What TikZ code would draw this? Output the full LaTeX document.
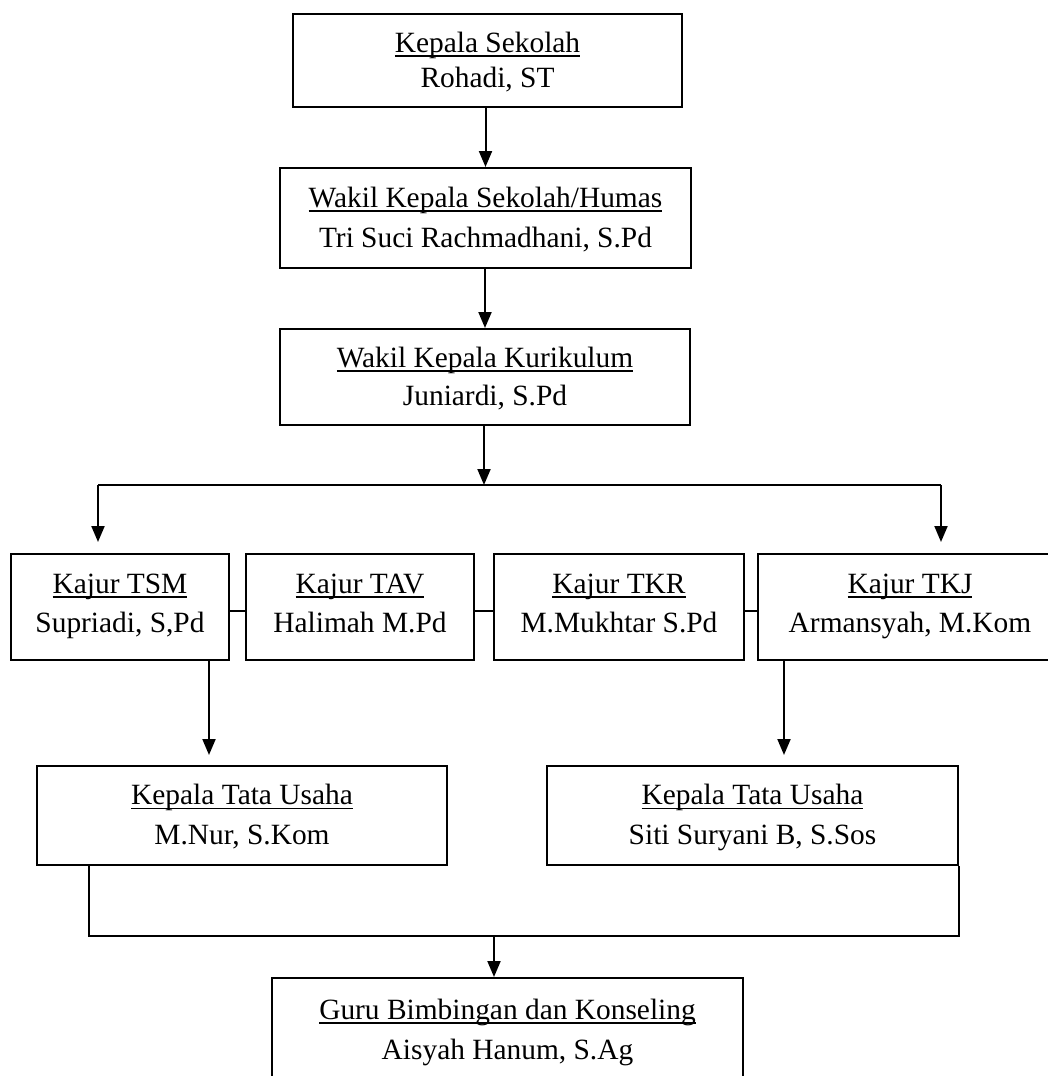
\documentclass[tikz,border=0pt]{standalone}
\usepackage{fontspec}
\setmainfont{Liberation Serif}
\usetikzlibrary{arrows.meta}
\def\sht{26bp}
\def\sdp{8bp}
\newcommand\mystrut{\rule[-\sdp]{0pt}{\dimexpr\sdp+\sht\relax}}
\newcommand\myul[1]{\setbox0=\hbox{#1}\rlap{\rule[-4.8bp]{\wd0}{1.6bp}}\box0\mystrut}
\newcommand\mysecond[1]{#1\mystrut}
\begin{document}
\begin{tikzpicture}[x=1bp,y=-1bp,
  orgbox/.style n args={3}{draw, line width=2bp, rectangle, inner sep=0pt,
     minimum width=#1, minimum height=#2, align=center,
     font=\fontsize{29.4bp}{#3}\selectfont},
  rowbox/.style={font=\fontsize{29.4bp}{39bp}\selectfont\def\sht{22bp}\def\sdp{11bp}},
  conn/.style={line width=2bp},
  arr/.style={conn, -{Triangle[length=16bp,width=13bp]}}]
\useasboundingbox (0,0) rectangle (1048,1076);
\clip (0,0) rectangle (1048,1076);
% boxes
\node[orgbox={389bp}{93bp}{35bp}] (b1) at (487.5,60.5) {\myul{Kepala Sekolah}\\\mysecond{Rohadi, ST}};
\node[orgbox={411bp}{100bp}{40bp}] (b2) at (485.5,218) {\myul{Wakil Kepala Sekolah/Humas}\\\mysecond{Tri Suci Rachmadhani, S.Pd}};
\node[orgbox={410bp}{96bp}{38bp}] (b3) at (485,377) {\myul{Wakil Kepala Kurikulum}\\\mysecond{Juniardi, S.Pd}};
\node[orgbox={218bp}{106bp}{39bp}, rowbox] (tsm) at (120,607) {\myul{Kajur TSM}\\\mysecond{Supriadi, S,Pd}};
\node[orgbox={228bp}{106bp}{39bp}, rowbox] (tav) at (360,607) {\myul{Kajur TAV}\\\mysecond{Halimah M.Pd}};
\node[orgbox={250bp}{106bp}{39bp}, rowbox] (tkr) at (619,607) {\myul{Kajur TKR}\\\mysecond{M.Mukhtar S.Pd}};
\node[orgbox={304bp}{106bp}{39bp}, rowbox] (tkj) at (910,607) {\myul{Kajur TKJ}\\\mysecond{Armansyah, M.Kom}};
\node[orgbox={410bp}{99bp}{40bp}] (ktu1) at (242,815.5) {\myul{Kepala Tata Usaha}\\\mysecond{M.Nur, S.Kom}};
\node[orgbox={411bp}{99bp}{40bp}] (ktu2) at (752.5,815.5) {\myul{Kepala Tata Usaha}\\\mysecond{Siti Suryani B, S.Sos}};
\node[orgbox={471bp}{104bp}{40bp}] (gbk) at (507.5,1030) {\myul{Guru Bimbingan dan Konseling}\\\mysecond{Aisyah Hanum, S.Ag}};
% junction coordinates
\coordinate (j1) at (484,485);
\coordinate (jl) at (98,485);
\coordinate (jr) at (941,485);
\coordinate (c1) at (209,0);
\coordinate (c2) at (784,0);
\coordinate (c3) at (89,936);
\coordinate (c4) at (494,936);
% connectors
\draw[arr] (b2.north |- b1.south) -- (b2.north);
\draw[arr] (b3.north |- b2.south) -- (b3.north);
\draw[arr] (j1 |- b3.south) -- (j1);
\draw[conn] (jl) -- (jr);
\draw[arr, shorten >=11bp] (jl) -- (jl |- tsm.north);
\draw[arr, shorten >=11bp] (jr) -- (jr |- tkj.north);
\draw[conn] ([yshift=-4bp]tsm.east) -- ([yshift=-4bp]tav.west);
\draw[conn] ([yshift=-4bp]tav.east) -- ([yshift=-4bp]tkr.west);
\draw[conn] ([yshift=-4bp]tkr.east) -- ([yshift=-4bp]tkj.west);
\draw[arr, shorten >=10bp] (c1 |- tsm.south) -- (c1 |- ktu1.north);
\draw[arr, shorten >=10bp] (c2 |- tkj.south) -- (c2 |- ktu2.north);
\draw[conn] (c3 |- ktu1.south) -- (c3) -- (ktu2.south east |- c3) -- (ktu2.south east);
\draw[arr] (c4) -- (c4 |- gbk.north);
\end{tikzpicture}
\end{document}
